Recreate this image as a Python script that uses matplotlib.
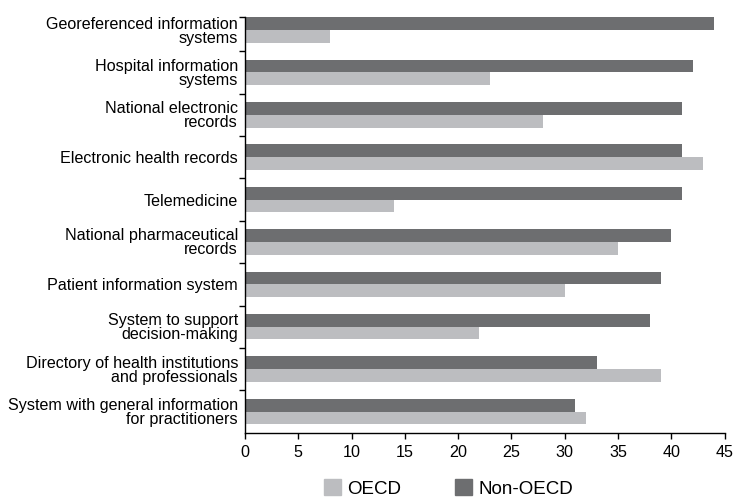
import matplotlib
matplotlib.use("Agg")
import matplotlib.pyplot as plt
from matplotlib.patches import Patch
import numpy as np

plt.rcParams['font.family'] = ['Liberation Sans', 'DejaVu Sans']

categories = [
    "Georeferenced information\nsystems",
    "Hospital information\nsystems",
    "National electronic\nrecords",
    "Electronic health records",
    "Telemedicine",
    "National pharmaceutical\nrecords",
    "Patient information system",
    "System to support\ndecision-making",
    "Directory of health institutions\nand professionals",
    "System with general information\nfor practitioners",
]
non_oecd = [44, 42, 41, 41, 41, 40, 39, 38, 33, 31]
oecd = [8, 23, 28, 43, 14, 35, 30, 22, 39, 32]
x_ticks = [0, 5, 10, 15, 20, 25, 30, 35, 40, 45]

dark = "#6d6e70"
light = "#bcbdc0"

fig = plt.figure(figsize=(7.34, 5.01), dpi=100)
ax = fig.add_axes([245/734, 1-432.7/501, (724.5-245)/734, (432.7-17.3)/501])

y = np.arange(len(categories))
h = 0.3
ax.barh(y - h/2, non_oecd, height=h, color=dark, label="Non-OECD")
ax.barh(y + h/2, oecd, height=h, color=light, label="OECD")

ax.set_ylim(9.5, -0.3)
ax.set_xlim(0, 45)
ax.set_xticks(x_ticks)
ax.set_xticklabels([str(t) for t in x_ticks], fontsize=11.6)
ax.set_yticks(y)
ax.set_yticklabels(categories, fontsize=11.6, ha='right', linespacing=0.92)
ax.tick_params(axis='y', length=0, pad=5)
ax.set_yticks(list(np.arange(0.5, 9.5, 1.0)) + [-0.3], minor=True)
ax.tick_params(axis='y', which='minor', length=4, width=1, direction='out')
ax.tick_params(axis='x', length=4, width=1, direction='out', pad=5)
for s in ['top', 'right']:
    ax.spines[s].set_visible(False)
for s in ['left', 'bottom']:
    ax.spines[s].set_linewidth(1)

handles = [Patch(color=light, label="OECD"), Patch(color=dark, label="Non-OECD")]
fig.legend(handles=handles, loc='center', bbox_to_anchor=(0.611, 0.025), ncol=2,
           frameon=False, fontsize=13.5, handlelength=0.89, handleheight=0.89,
           columnspacing=2.9, handletextpad=0.34, borderpad=0, borderaxespad=0)

fig.savefig("out.png", dpi=100)
